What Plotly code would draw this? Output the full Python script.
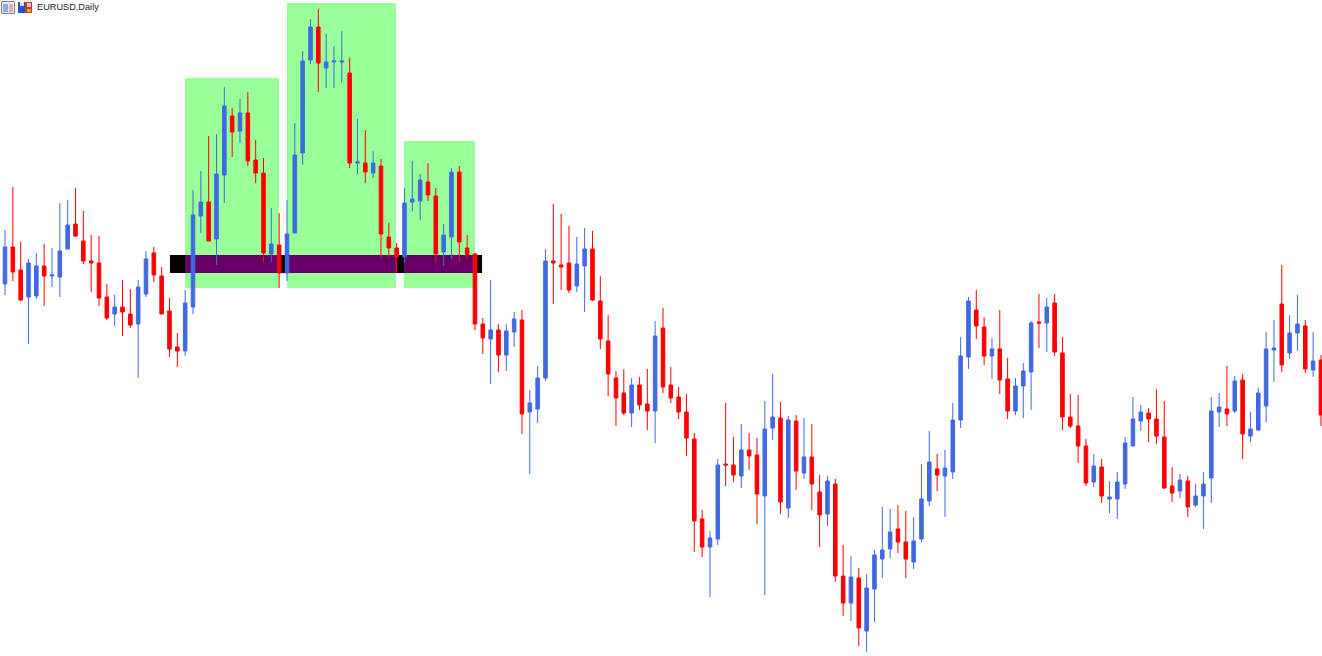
import plotly.graph_objects as go

TITLE = "EURUSD,Daily"
# Prices in chart points (the source shows no price scale)
high = [426,469,414,397,403,412,408,453,456,468,445,421,420,372,361,376,367,376,405,409,389,358,323,366,466,485,520,522,569,548,557,564,516,498,448,443,456,533,605,637,647,622,610,625,598,537,526,505,497,433,413,468,495,482,493,468,432,488,490,421,403,338,376,332,332,344,346,266,290,407,452,442,430,419,428,425,380,341,285,287,278,279,287,335,348,289,269,262,223,146,125,197,253,219,232,223,218,255,282,254,240,241,238,232,181,180,177,111,100,88,82,106,149,147,151,145,139,192,225,202,206,253,319,359,366,339,318,346,298,278,293,335,362,358,362,319,262,261,217,202,197,175,184,219,259,251,248,267,255,189,182,180,172,184,259,263,290,280,282,244,268,324,336,391,341,361,336,324,301]
low = [361,375,355,312,357,350,369,359,407,419,392,364,350,336,330,320,328,278,359,374,342,299,289,300,342,423,415,391,453,499,513,490,473,394,394,368,375,423,491,592,564,568,568,573,488,482,473,478,398,399,383,393,445,436,455,393,390,397,394,397,326,302,272,284,285,309,222,182,233,275,352,366,363,364,344,355,307,260,230,241,229,246,226,213,263,253,237,200,104,99,59,111,170,174,168,186,132,61,216,142,138,166,177,146,109,130,74,40,35,10,4,34,78,98,103,78,87,114,150,165,139,177,228,287,317,291,277,262,237,241,238,246,308,304,300,226,228,193,170,169,153,143,137,167,210,225,214,212,167,154,158,139,149,127,153,229,230,243,197,214,225,234,274,284,297,305,283,279,230]
open_ = [372,409,386,359,360,390,380,379,407,432,415,395,393,359,342,349,342,332,362,403,380,345,309,305,349,440,454,417,481,540,525,543,496,483,402,411,383,423,503,596,629,588,594,594,583,493,493,483,490,419,408,399,454,455,474,460,404,419,484,408,402,332,317,326,301,324,336,244,247,278,395,391,393,370,390,407,355,315,278,263,243,271,252,245,328,271,259,244,217,137,109,117,192,191,180,206,201,160,228,238,148,235,183,199,164,142,172,80,53,78,25,67,97,107,127,114,94,117,155,187,180,184,236,299,346,329,300,307,277,245,270,284,334,333,353,303,239,230,210,174,189,157,157,172,210,235,243,237,219,170,165,175,151,160,178,244,247,245,276,220,226,250,306,352,303,323,330,286,296]
close = [409,384,356,393,390,380,381,405,431,420,395,393,358,338,349,344,331,369,397,381,342,307,305,353,441,454,415,482,550,524,543,495,483,403,412,383,422,501,595,629,593,594,595,595,493,494,484,493,422,408,399,453,457,476,461,402,421,484,414,401,332,318,326,301,325,337,242,253,278,395,393,389,366,392,407,356,317,282,258,243,271,251,245,320,269,258,244,218,135,109,118,191,191,181,206,200,162,227,239,154,236,185,199,172,141,175,80,53,79,28,68,101,106,124,114,97,115,157,194,181,188,236,300,355,330,300,307,276,245,270,285,333,333,349,304,239,230,210,173,190,160,159,174,213,237,244,237,220,168,163,176,149,160,172,245,249,242,275,222,227,263,307,308,291,323,332,287,295,241]
index = list(range(len(high)))

# Shaded zones as (first bar, last bar, top price); all share one floor price
zone_first = [22.98, 36.0, 50.94]
zone_last = [34.98, 49.9, 60.0]
zone_top = [578, 653, 515]
zone_floor = 368
band_low, band_high = 383, 401
band_first, band_last = 21.06, 60.9

BLUE, RED = "#4169E1", "#FF0000"
GREEN, PURPLE, BLACK = "#99FF99", "#660066", "#000000"
W, H = 1322, 656
BAR = 7.833

shapes = [dict(type="rect", xref="x", yref="y", x0=band_first, x1=band_last, y0=band_low, y1=band_high,
               fillcolor=BLACK, line_width=0, layer="below")]
for a, b, t in zip(zone_first, zone_last, zone_top):
    shapes.append(dict(type="rect", xref="x", yref="y", x0=a, x1=b, y0=zone_floor, y1=t,
                       fillcolor=GREEN, line_width=0, layer="below"))
    shapes.append(dict(type="rect", xref="x", yref="y", x0=a, x1=b, y0=band_low, y1=band_high,
                       fillcolor=PURPLE, line_width=0, layer="below"))

def icon(x0, y0, x1, y1, fill, border=None):
    shapes.append(dict(type="rect", xref="paper", yref="paper", x0=x0 / W, x1=x1 / W,
                       y0=1 - y1 / H, y1=1 - y0 / H, fillcolor=fill,
                       line=dict(width=1 if border else 0, color=border or fill)))

# window icon
icon(1.5, 1.5, 14.5, 13.5, "#E6E8F0", "#7D8496")
icon(3, 4, 8, 12, "#8FA8E6")
icon(9, 4, 13, 12, "#F0A8A8")
# save icon
icon(18, 2, 25, 13, "#1F55D2")
icon(25, 2, 32, 13, "#D8352A")
icon(20, 2, 24, 6, "#DDE6F7")
icon(27, 3, 31, 7, "#F0C7B0")
icon(27, 9, 31, 12, "#E8A030")

fig = go.Figure(go.Candlestick(
    x=index, open=open_, high=high, low=low, close=close,
    increasing=dict(line=dict(color=BLUE, width=1), fillcolor=BLUE),
    decreasing=dict(line=dict(color=RED, width=1), fillcolor=RED),
    whiskerwidth=0, showlegend=False, hoverinfo="skip",
))
fig.update_layout(
    width=W, height=H, margin=dict(l=0, r=0, t=0, b=0, pad=0),
    paper_bgcolor="white", plot_bgcolor="white", showlegend=False,
    boxgap=0.35,
    shapes=shapes,
    xaxis=dict(range=[-5 / BAR, (W - 5) / BAR], visible=False, rangeslider=dict(visible=False), fixedrange=True),
    yaxis=dict(range=[0, H], visible=False, fixedrange=True),
    annotations=[dict(text=TITLE, xref="paper", yref="paper", x=35 / W, y=1 - 7 / H,
                      xanchor="left", yanchor="middle", showarrow=False,
                      font=dict(family="Liberation Sans", size=9.2, color="#222222"))],
)
fig.write_html("out.html", config=dict(displayModeBar=False),
               post_script="document.body.style.margin='0';document.body.style.overflow='hidden';")
